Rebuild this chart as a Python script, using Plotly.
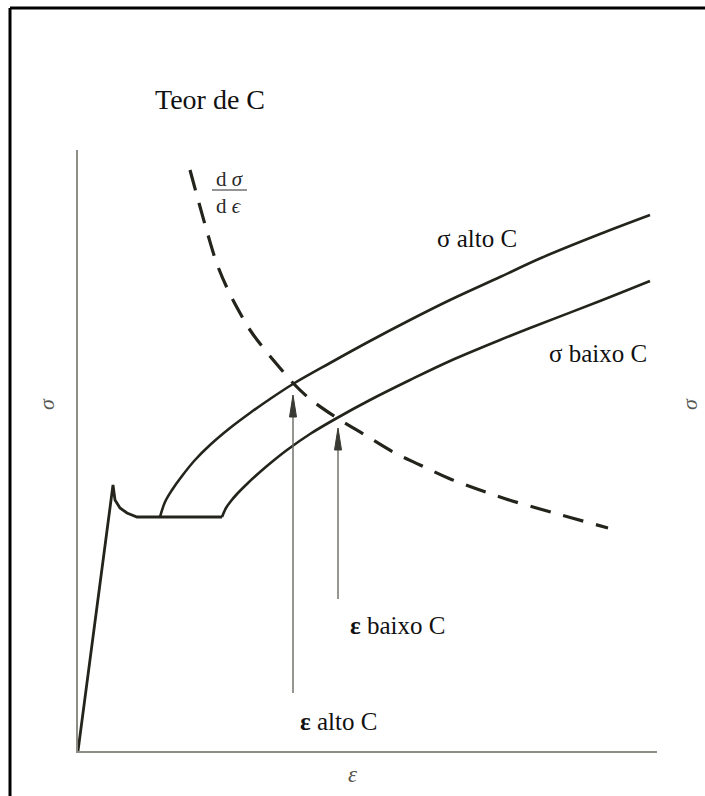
import plotly.graph_objects as go

# Strain (epsilon) and stress (sigma) in arbitrary units; the axes carry no scale.
# Elastic line, upper yield point and Lueders plateau
base_strain = [0, 35, 37, 42, 49, 59, 82, 144]
base_stress = [0, 266, 251, 243, 238, 234, 234, 234]

# Work-hardening curve, high carbon content
high_c_strain = [82, 87, 94, 104, 117, 132, 152, 172, 192, 215, 252, 292, 332, 372, 422, 463, 522, 572]
high_c_stress = [234, 249, 261, 275, 291, 306, 323, 338, 352, 367, 388, 410, 431, 451, 474, 493, 517, 536]

# Work-hardening curve, low carbon content
low_c_strain = [144, 148, 153, 159, 170, 182, 195, 209, 232, 259, 292, 332, 372, 422, 452, 522, 572]
low_c_stress = [234, 243, 250, 257, 268, 279, 290, 301, 317, 333, 351, 371, 390, 411, 423, 450, 470]

# Hardening rate d(sigma)/d(epsilon)
rate_strain = [112, 121, 130, 139, 150, 162, 172, 187, 202, 215, 232, 259, 287, 317, 342, 370, 399, 428, 462, 494, 530]
rate_stress = [581, 548, 516, 487, 461, 438, 421, 401, 383, 368, 352, 333, 316, 298, 286, 273, 262, 252, 242, 233, 223]

# Uniform strain markers (where the rate curve meets each stress curve)
marker_names = ["alto C", "baixo C"]
marker_strain = [215, 260]
marker_tip_stress = [356, 323]
marker_tail_stress = [58, 152]

X_MAX, Y_MAX = 579, 601
INK = "#24241c"
AXIS_GREY = "#8e8e86"
ARROW_GREY = "#6a6a64"
SERIF = "Liberation Serif, Times New Roman, DejaVu Serif, serif"

fig = go.Figure()

fig.add_trace(go.Scatter(x=base_strain, y=base_stress, mode="lines",
                         line=dict(color=INK, width=2.8), hoverinfo="skip"))
fig.add_trace(go.Scatter(x=high_c_strain, y=high_c_stress, mode="lines",
                         line=dict(color=INK, width=2.6, shape="spline", smoothing=1.0),
                         hoverinfo="skip"))
fig.add_trace(go.Scatter(x=low_c_strain, y=low_c_stress, mode="lines",
                         line=dict(color=INK, width=2.6, shape="spline", smoothing=1.0),
                         hoverinfo="skip"))
fig.add_trace(go.Scatter(x=rate_strain, y=rate_stress, mode="lines",
                         line=dict(color=INK, width=3.2, dash="21px,13px",
                                   shape="spline", smoothing=1.0),
                         hoverinfo="skip"))

# Vertical arrows pointing at the intersections
HEAD_LEN, HEAD_HALF = 22, 3.5
for e, tip, tail in zip(marker_strain, marker_tip_stress, marker_tail_stress):
    fig.add_trace(go.Scatter(x=[e, e], y=[tail, tip - HEAD_LEN + 2], mode="lines",
                             line=dict(color=ARROW_GREY, width=1.4), hoverinfo="skip"))
    fig.add_trace(go.Scatter(x=[e - HEAD_HALF, e, e + HEAD_HALF, e - HEAD_HALF],
                             y=[tip - HEAD_LEN, tip, tip - HEAD_LEN, tip - HEAD_LEN],
                             mode="lines", fill="toself", fillcolor="#3a3a34",
                             line=dict(color="#3a3a34", width=1), hoverinfo="skip"))

ann = []


def label(x, y, text, size, color="#111111", angle=0):
    # positions given in axis units; converted to paper so labels outside the
    # plotting area are still drawn
    ann.append(dict(x=x / X_MAX, y=y / Y_MAX, xref="paper", yref="paper",
                    text=text, showarrow=False, textangle=angle,
                    xanchor="center", yanchor="middle", borderpad=0,
                    font=dict(family=SERIF, size=size, color=color)))


label(132, 652, "Teor de C", 28)
label(399, 513, "σ alto C", 25)
label(520, 398, "σ baixo C", 25)
label(319, 126, "<b>ε</b> baixo C", 25)
label(260, 30, "<b>ε</b> alto C", 25)
label(152, 572, "d <i>σ</i>", 21, "#2a2a2a")
label(151, 545, "d <i>ϵ</i>", 21, "#2a2a2a")
label(-32, 347, "<i>σ</i>", 22, "#55554f", angle=-90)
label(611, 347, "<i>σ</i>", 22, "#55554f", angle=-90)
label(275, -23, "<i>ε</i>", 23, "#55554f")

shapes = [
    # fraction bar of d sigma / d epsilon
    dict(type="line", xref="x", yref="y", x0=134, x1=169, y0=561, y1=561,
         line=dict(color="#2a2a2a", width=1)),
    # outer frame (top and left edges)
    dict(type="line", xref="paper", yref="paper",
         x0=(10 - 78) / X_MAX, x1=(712 - 78) / X_MAX,
         y0=(751 - 8) / Y_MAX, y1=(751 - 8) / Y_MAX,
         line=dict(color="#000000", width=3)),
    dict(type="line", xref="paper", yref="paper",
         x0=(10 - 78) / X_MAX, x1=(10 - 78) / X_MAX,
         y0=(751 - 8) / Y_MAX, y1=(751 - 800) / Y_MAX,
         line=dict(color="#000000", width=3)),
]

axis_common = dict(showgrid=False, zeroline=False, showticklabels=False, ticks="",
                   showline=True, linecolor=AXIS_GREY, linewidth=1.6, fixedrange=True)

fig.update_layout(
    width=705, height=796,
    margin=dict(l=78, r=48, t=150, b=45),
    paper_bgcolor="white", plot_bgcolor="white",
    showlegend=False,
    xaxis=dict(range=[0, X_MAX], **axis_common),
    yaxis=dict(range=[0, Y_MAX], **axis_common),
    annotations=ann,
    shapes=shapes,
)

fig.write_html("out.html")
